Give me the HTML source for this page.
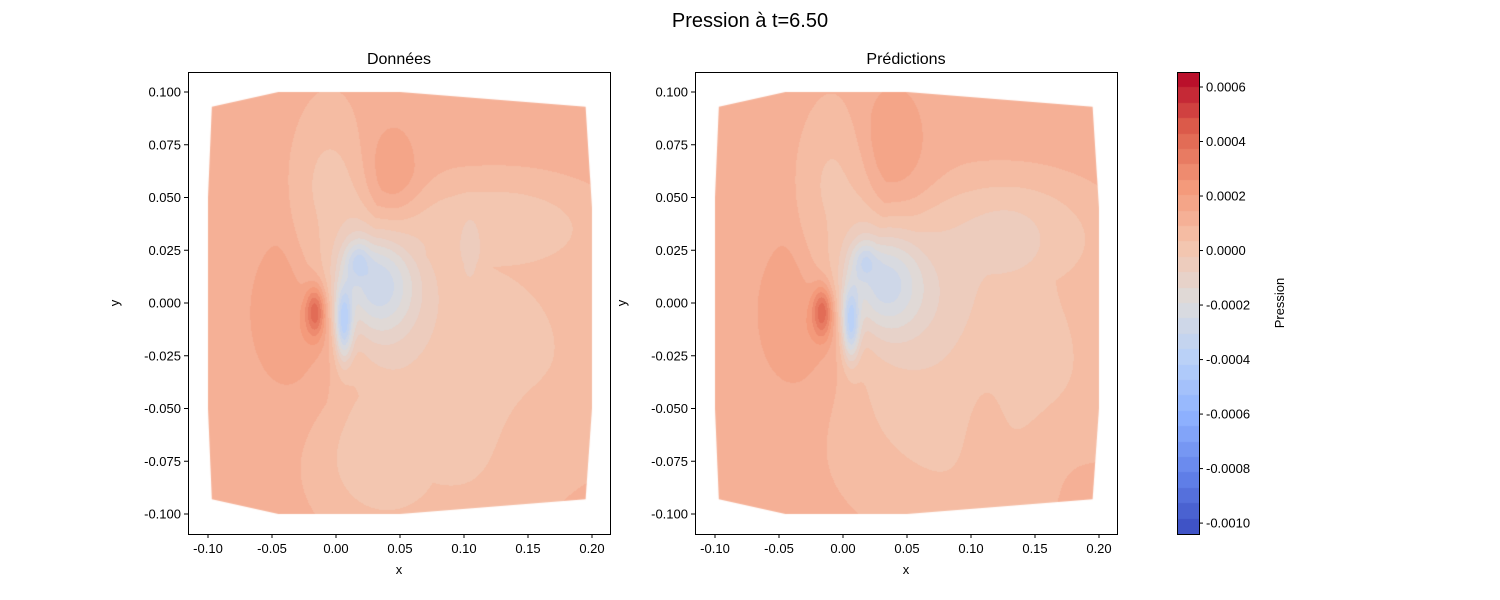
<!DOCTYPE html>
<html><head><meta charset="utf-8"><style>
html,body{margin:0;padding:0;background:#fff;width:1500px;height:600px;overflow:hidden;font-family:"Liberation Sans",sans-serif}
canvas{position:absolute}
svg{position:absolute;left:0;top:0}
</style></head><body>
<canvas id="c1" width="422" height="462" style="left:188px;top:72px"></canvas>
<canvas id="c2" width="422" height="462" style="left:695px;top:72px"></canvas>
<canvas id="cb" width="22" height="462" style="left:1177px;top:72px"></canvas>
<svg id="ov" width="1500" height="600" font-family="Liberation Sans, sans-serif" font-size="13">
<text x="750" y="27" text-anchor="middle" font-size="20">Pression à t=6.50</text>
<text x="399" y="64" text-anchor="middle" font-size="16">Données</text>
<text x="906" y="64" text-anchor="middle" font-size="16">Prédictions</text>
<text x="399" y="574" text-anchor="middle">x</text>
<text x="906" y="574" text-anchor="middle">x</text>
<text x="119" y="303" text-anchor="middle" transform="rotate(-90 119 303)">y</text>
<text x="626" y="303" text-anchor="middle" transform="rotate(-90 626 303)">y</text>
<text x="1284" y="303" text-anchor="middle" transform="rotate(-90 1284 303)">Pression</text>
<g id="axes"></g>
</svg>
<script>
const xTicks=[-0.10,-0.05,0.00,0.05,0.10,0.15,0.20];
const yTicks=[0.100,0.075,0.050,0.025,0.000,-0.025,-0.050,-0.075,-0.100];
const cbTicks=[0.0006,0.0004,0.0002,0.0000,-0.0002,-0.0004,-0.0006,-0.0008,-0.0010];
const vmin=-10.4, vmax=6.55, nLevels=30; // units 1e-4
const boundaryX=[-0.097,-0.045,0.05,0.195,0.2,0.2,0.195,0.05,-0.045,-0.097,-0.1,-0.1];
const boundaryY=[0.093,0.1,0.1,0.093,0.045,-0.05,-0.093,-0.1,-0.1,-0.093,-0.05,0.05];
// light region masks: cx, cy, sx, sy
const dataMaskCx=[0.10,0.125,-0.005,0.04];
const dataMaskCy=[-0.035,0.035,0.035,-0.07];
const dataMaskSx=[0.112,0.085,0.032,0.06];
const dataMaskSy=[0.075,0.025,0.055,0.04];
// additive bumps: cx, cy, sx, sy, amplitude
const dataBumpCx=[0.16,0.04,0.105,0.03,0.017,0.006,-0.03,-0.016,0.045];
const dataBumpCy=[-0.07,0.005,0.025,0.01,0.02,-0.01,-0.005,-0.004,0.06];
const dataBumpSx=[0.04,0.04,0.008,0.03,0.01,0.007,0.04,0.008,0.022];
const dataBumpSy=[0.035,0.04,0.015,0.024,0.009,0.017,0.042,0.012,0.027];
const dataBumpA=[0.3,-0.8,-0.9,-2.8,-1.5,-4.0,1.1,3.0,1.0];
const predMaskCx=[0.10,0.13,-0.005];
const predMaskCy=[-0.03,0.03,0.035];
const predMaskSx=[0.115,0.08,0.032];
const predMaskSy=[0.075,0.03,0.055];
const predBumpCx=[0.17,0.06,0.13,0.03,0.017,0.006,-0.03,-0.016,0.04,0.11];
const predBumpCy=[-0.075,0.005,0.03,0.01,0.02,-0.01,-0.005,-0.004,0.075,-0.06];
const predBumpSx=[0.035,0.05,0.035,0.03,0.01,0.007,0.04,0.008,0.028,0.02];
const predBumpSy=[0.025,0.04,0.02,0.024,0.009,0.017,0.042,0.012,0.032,0.04];
const predBumpA=[0.3,-0.8,-0.6,-2.8,-1.5,-4.0,1.1,3.0,0.95,0.3];
const baseVal=1.0, maskDepth=0.85;

const cw=[[0,[58,76,192]],[0.125,[98,130,234]],[0.25,[141,176,254]],[0.375,[184,208,249]],[0.5,[221,220,220]],[0.625,[245,196,173]],[0.75,[244,154,123]],[0.875,[222,96,77]],[1,[180,4,38]]];
function cmap(t){t=Math.max(0,Math.min(1,t));for(let i=1;i<cw.length;i++){if(t<=cw[i][0]){const a=cw[i-1],b=cw[i],f=(t-a[0])/(b[0]-a[0]);return a[1].map((v,k)=>Math.round(v+(b[1][k]-v)*f));}}return cw[cw.length-1][1];}
function qcol(v){const step=(vmax-vmin)/nLevels;let k=Math.floor((v-vmin)/step);k=Math.max(0,Math.min(nLevels-1,k));return cmap((k+0.5)/nLevels);}
function pxX(x,x0){return x0+(x+0.1)*1280;}
function pxY(y){return 92+(0.1-y)*2110;}
function field(x,y,mcx,mcy,msx,msy,bcx,bcy,bsx,bsy,ba){
  let m=0;for(let i=0;i<mcx.length;i++){const r=((x-mcx[i])/msx[i])**2+((y-mcy[i])/msy[i])**2;m=Math.max(m,Math.exp(-r*r));}
  let v=baseVal-maskDepth*m;
  for(let i=0;i<bcx.length;i++){const r=((x-bcx[i])/bsx[i])**2+((y-bcy[i])/bsy[i])**2;v+=ba[i]*Math.exp(-r);}
  return v;}
function render(id,axLeft,x0,mcx,mcy,msx,msy,bcx,bcy,bsx,bsy,ba){
  const c=document.getElementById(id),ctx=c.getContext('2d');
  const img=ctx.createImageData(422,462);
  for(let py=0;py<462;py++){for(let px=0;px<422;px++){
    const X=axLeft+px+0.5,Y=72+py+0.5;
    const y=0.1-(Y-92)/2110;
    const xd=(X-pxX(0,x0))/1280;
    const v=field(xd,y,mcx,mcy,msx,msy,bcx,bcy,bsx,bsy,ba);
    const col=qcol(v),i=(py*422+px)*4;
    img.data[i]=col[0];img.data[i+1]=col[1];img.data[i+2]=col[2];img.data[i+3]=255;}}
  ctx.putImageData(img,0,0);
  ctx.globalCompositeOperation='destination-in';ctx.beginPath();
  for(let i=0;i<boundaryX.length;i++){const X=pxX(boundaryX[i],x0)-axLeft,Y=pxY(boundaryY[i])-72;i?ctx.lineTo(X,Y):ctx.moveTo(X,Y);}
  ctx.closePath();ctx.fill();ctx.globalCompositeOperation='source-over';
}
render('c1',188,208,dataMaskCx,dataMaskCy,dataMaskSx,dataMaskSy,dataBumpCx,dataBumpCy,dataBumpSx,dataBumpSy,dataBumpA);
render('c2',695,715,predMaskCx,predMaskCy,predMaskSx,predMaskSy,predBumpCx,predBumpCy,predBumpSx,predBumpSy,predBumpA);
(function(){const c=document.getElementById('cb'),ctx=c.getContext('2d');
 for(let py=0;py<462;py++){const v=vmax-(py+0.5)/462*(vmax-vmin);const col=qcol(v);ctx.fillStyle=`rgb(${col})`;ctx.fillRect(0,py,22,1);}})();
const NS='http://www.w3.org/2000/svg',g=document.getElementById('axes');
function mk(tag,attrs,txt){const e=document.createElementNS(NS,tag);for(const k in attrs)e.setAttribute(k,attrs[k]);if(txt!==undefined)e.textContent=txt;g.appendChild(e);return e;}
[[188,208,'left'],[695,715,'right']].forEach(([L,x0,side])=>{
  const fr=mk('rect',{x:L+0.5,y:72.5,width:422,height:462,fill:'none',stroke:'#000','stroke-width':1});
  
  
  xTicks.forEach(t=>{const X=pxX(t,x0);
    const l=mk('line',{x1:X,x2:X,y1:534,y2:538,stroke:'#000'});
    
    
    const tx=mk('text',{x:X,y:553,'text-anchor':'middle'},t.toFixed(2));
    
    });
  yTicks.forEach(t=>{const Y=pxY(t);
    const l=mk('line',{x1:L-4,x2:L,y1:Y,y2:Y,stroke:'#000'});
    
    
    const tx=mk('text',{x:L-7,y:Y+4.5,'text-anchor':'end'},t.toFixed(3));
    
    });
});
const cbf=mk('rect',{x:1177.5,y:72.5,width:22,height:462,fill:'none',stroke:'#000'});


cbTicks.forEach(t=>{const Y=72+(vmax-t*1e4)/(vmax-vmin)*462;
  const l=mk('line',{x1:1199,x2:1203,y1:Y,y2:Y,stroke:'#000'});
  
  
  const tx=mk('text',{x:1206,y:Y+4.5},t.toFixed(4));
  
  });
</script>
</body></html>
